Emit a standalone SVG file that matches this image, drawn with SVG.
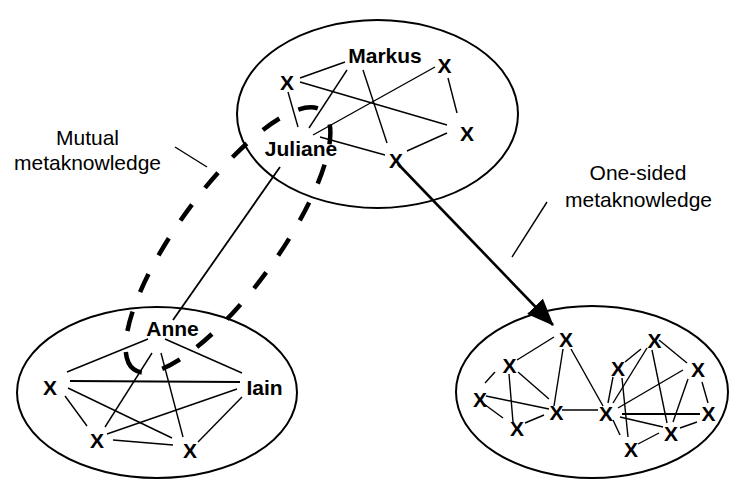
<svg xmlns="http://www.w3.org/2000/svg" width="730" height="485" viewBox="0 0 730 485">
<style>
.bg{fill:#fff}
.grp{fill:none;stroke:#000;stroke-width:2}
.e{stroke:#000;stroke-width:1.4;fill:none}
.n{font-family:"Liberation Sans",Arial,sans-serif;font-size:21px;font-weight:bold;text-anchor:middle;fill:#000}
.lbl{font-family:"Liberation Sans",Arial,sans-serif;font-size:21px;text-anchor:middle;fill:#000}
.mutual{fill:none;stroke:#000;stroke-width:4.5;stroke-dasharray:20 21}
</style>
<defs>
<marker id="ah" markerUnits="userSpaceOnUse" markerWidth="27" markerHeight="22" refX="26" refY="11" orient="auto">
<path d="M0,0 L27,11 L0,22 z" fill="#000"/>
</marker>
</defs>
<rect class="bg" x="0" y="0" width="730" height="485"/>

<g id="groups">
<ellipse class="grp" cx="377.5" cy="114" rx="140.5" ry="94"/>
<ellipse class="grp" cx="157" cy="392.5" rx="140" ry="85.5"/>
<ellipse class="grp" cx="592" cy="392" rx="136" ry="86"/>
</g>

<g id="connectors">
<!-- top group -->
<line class="e" x1="300" y1="78" x2="345" y2="62"/>
<line class="e" x1="300" y1="82" x2="447" y2="125"/>
<line class="e" x1="347" y1="70" x2="309" y2="128"/>
<line class="e" x1="363" y1="70" x2="387" y2="143"/>
<line class="e" x1="435" y1="67" x2="313" y2="135"/>
<line class="e" x1="288" y1="92" x2="298" y2="127"/>
<line class="e" x1="320" y1="137" x2="385" y2="155"/>
<line class="e" x1="448" y1="78" x2="457" y2="113"/>
<line class="e" x1="447" y1="133" x2="407" y2="151"/>
<!-- bottom-left group -->
<line class="e" x1="148" y1="339" x2="67" y2="372"/>
<line class="e" x1="165" y1="339" x2="242" y2="373"/>
<line class="e" x1="70" y1="381" x2="240" y2="382" style="stroke-width:1.8"/>
<line class="e" x1="152" y1="353" x2="105" y2="427"/>
<line class="e" x1="161" y1="353" x2="183" y2="437"/>
<line class="e" x1="65" y1="396" x2="87" y2="426"/>
<line class="e" x1="68" y1="388" x2="172" y2="438"/>
<line class="e" x1="237" y1="389" x2="107" y2="434"/>
<line class="e" x1="113" y1="440" x2="173" y2="445"/>
<line class="e" x1="242" y1="397" x2="198" y2="442"/>
<!-- bottom-right group -->
<line class="e" x1="554" y1="337" x2="517" y2="360"/>
<line class="e" x1="563" y1="349" x2="554" y2="406"/>
<line class="e" x1="571" y1="349" x2="603" y2="406"/>
<line class="e" x1="495" y1="372" x2="485" y2="383"/>
<line class="e" x1="509" y1="374" x2="513" y2="422"/>
<line class="e" x1="518" y1="372" x2="549" y2="399"/>
<line class="e" x1="486" y1="396" x2="549" y2="409"/>
<line class="e" x1="484" y1="404" x2="503" y2="418"/>
<line class="e" x1="525" y1="423" x2="544" y2="415"/>
<line class="e" x1="562" y1="410" x2="598" y2="410"/>
<line class="e" x1="608" y1="403" x2="613" y2="377"/>
<line class="e" x1="613" y1="403" x2="647" y2="348"/>
<line class="e" x1="618" y1="408" x2="683" y2="370"/>
<line class="e" x1="622" y1="414" x2="700" y2="414" style="stroke-width:2"/>
<line class="e" x1="620" y1="417" x2="663" y2="427"/>
<line class="e" x1="613" y1="420" x2="620" y2="435"/>
<line class="e" x1="622" y1="378" x2="628" y2="437"/>
<line class="e" x1="625" y1="362" x2="641" y2="349"/>
<line class="e" x1="659" y1="340" x2="687" y2="363"/>
<line class="e" x1="652" y1="350" x2="667" y2="423"/>
<line class="e" x1="688" y1="379" x2="673" y2="422"/>
<line class="e" x1="702" y1="382" x2="708" y2="403"/>
<line class="e" x1="697" y1="422" x2="680" y2="428"/>
<line class="e" x1="659" y1="433" x2="638" y2="444"/>
<!-- mutual metaknowledge -->
<line class="e" x1="280" y1="167" x2="173" y2="320" style="stroke-width:1.8"/>
<ellipse class="mutual" cx="0" cy="0" rx="160" ry="50" transform="translate(228,240) rotate(126)"/>
<!-- one-sided metaknowledge -->
<line x1="398" y1="164" x2="553" y2="325" stroke="#000" stroke-width="2.6" marker-end="url(#ah)"/>
<!-- label leaders -->
<line class="e" x1="175" y1="147" x2="207" y2="167"/>
<line class="e" x1="547" y1="202" x2="512" y2="257"/>
</g>

<g id="node-markus"><text class="n" x="385" y="63">Markus</text></g>
<g id="node-top-x1"><text class="n" x="287" y="90">X</text></g>
<g id="node-top-x2"><text class="n" x="444.5" y="73">X</text></g>
<g id="node-top-x3"><text class="n" x="467" y="141">X</text></g>
<g id="node-top-x4"><text class="n" x="396" y="168">X</text></g>
<g id="node-juliane"><text class="n" x="301" y="156">Juliane</text></g>

<g id="node-anne"><text class="n" x="172.5" y="336">Anne</text></g>
<g id="node-iain"><text class="n" x="264.5" y="395">Iain</text></g>
<g id="node-bl-x1"><text class="n" x="50" y="395">X</text></g>
<g id="node-bl-x2"><text class="n" x="97" y="448">X</text></g>
<g id="node-bl-x3"><text class="n" x="190" y="458">X</text></g>

<g id="node-br-a"><text class="n" x="566" y="347">X</text></g>
<g id="node-br-b"><text class="n" x="509.5" y="373">X</text></g>
<g id="node-br-c"><text class="n" x="480" y="407">X</text></g>
<g id="node-br-d"><text class="n" x="517" y="436">X</text></g>
<g id="node-br-e"><text class="n" x="556.5" y="420">X</text></g>
<g id="node-br-f"><text class="n" x="606" y="421">X</text></g>
<g id="node-br-g"><text class="n" x="618" y="376">X</text></g>
<g id="node-br-h"><text class="n" x="654.5" y="348">X</text></g>
<g id="node-br-i"><text class="n" x="698" y="377">X</text></g>
<g id="node-br-j"><text class="n" x="708.5" y="421">X</text></g>
<g id="node-br-k"><text class="n" x="671" y="441">X</text></g>
<g id="node-br-l"><text class="n" x="631" y="457">X</text></g>

<g id="label-mutual">
<text class="lbl" x="87.5" y="145">Mutual</text>
<text class="lbl" x="87.5" y="170">metaknowledge</text>
</g>
<g id="label-onesided">
<text class="lbl" x="638" y="180">One-sided</text>
<text class="lbl" x="638.5" y="207">metaknowledge</text>
</g>
</svg>
